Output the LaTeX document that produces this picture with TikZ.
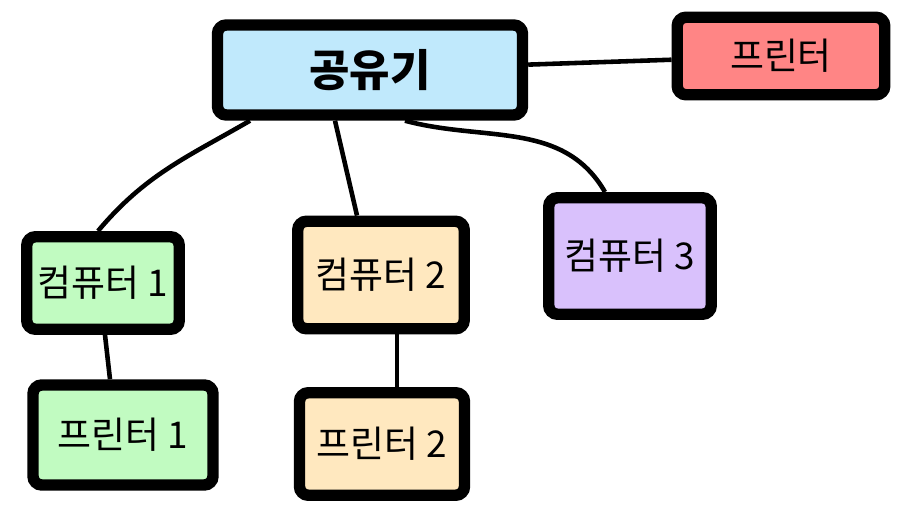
\documentclass[tikz,border=0pt]{standalone}
\usepackage{fontspec}
\newfontfamily\kr{Noto Sans CJK KR}
\definecolor{routerblue}{HTML}{C0E9FC}
\definecolor{printred}{HTML}{FF8585}
\definecolor{pcgreen}{HTML}{C1FBC1}
\definecolor{pcorange}{HTML}{FFE8BF}
\definecolor{pcpurple}{HTML}{D9C1FC}

\begin{document}
\begin{tikzpicture}[box/.style={draw,line width=6.5pt,rounded corners=5pt,font=\kr\fontsize{21}{24}\selectfont},
  link/.style={line width=2.6pt}]
  \useasboundingbox (0,0) rectangle (18,10.3);
  \node[box,fill=routerblue,minimum width=6.1cm,minimum height=1.8cm,font=\kr\bfseries\fontsize{25}{28}\selectfont] (R) at (7.4,8.9) {공유기};
  \node[box,fill=printred,minimum width=4.15cm,minimum height=1.55cm] (P) at (15.62,9.18) {프린터};
  \node[box,fill=pcgreen,minimum width=3.05cm,minimum height=1.85cm] (C1) at (2.06,4.64) {컴퓨터 1};
  \node[box,fill=pcorange,minimum width=3.33cm,minimum height=2.15cm] (C2) at (7.62,4.8) {컴퓨터 2};
  \node[box,fill=pcpurple,minimum width=3.25cm,minimum height=2.33cm] (C3) at (12.6,5.18) {컴퓨터 3};
  \node[box,fill=pcgreen,minimum width=3.6cm,minimum height=2.0cm] (P1) at (2.46,1.6) {프린터 1};
  \node[box,fill=pcorange,minimum width=3.3cm,minimum height=2.05cm] (P2) at (7.64,1.42) {프린터 2};
  \draw[link] (R) -- (P);
  \draw[link] ([xshift=-2.4cm]R.south) to[out=-150,in=50] ([xshift=-0.1cm]C1.north);
  \draw[link] ([xshift=-0.7cm]R.south) -- ([xshift=-0.48cm]C2.north);
  \draw[link] ([xshift=0.7cm]R.south) to[out=-15,in=120] ([xshift=-0.5cm]C3.north);
  \draw[link] ([xshift=0.04cm]C1.south) -- ([xshift=-0.26cm]P1.north);
  \draw[link] ([xshift=0.32cm]C2.south) -- ([xshift=0.3cm]P2.north);
\end{tikzpicture}
\end{document}
